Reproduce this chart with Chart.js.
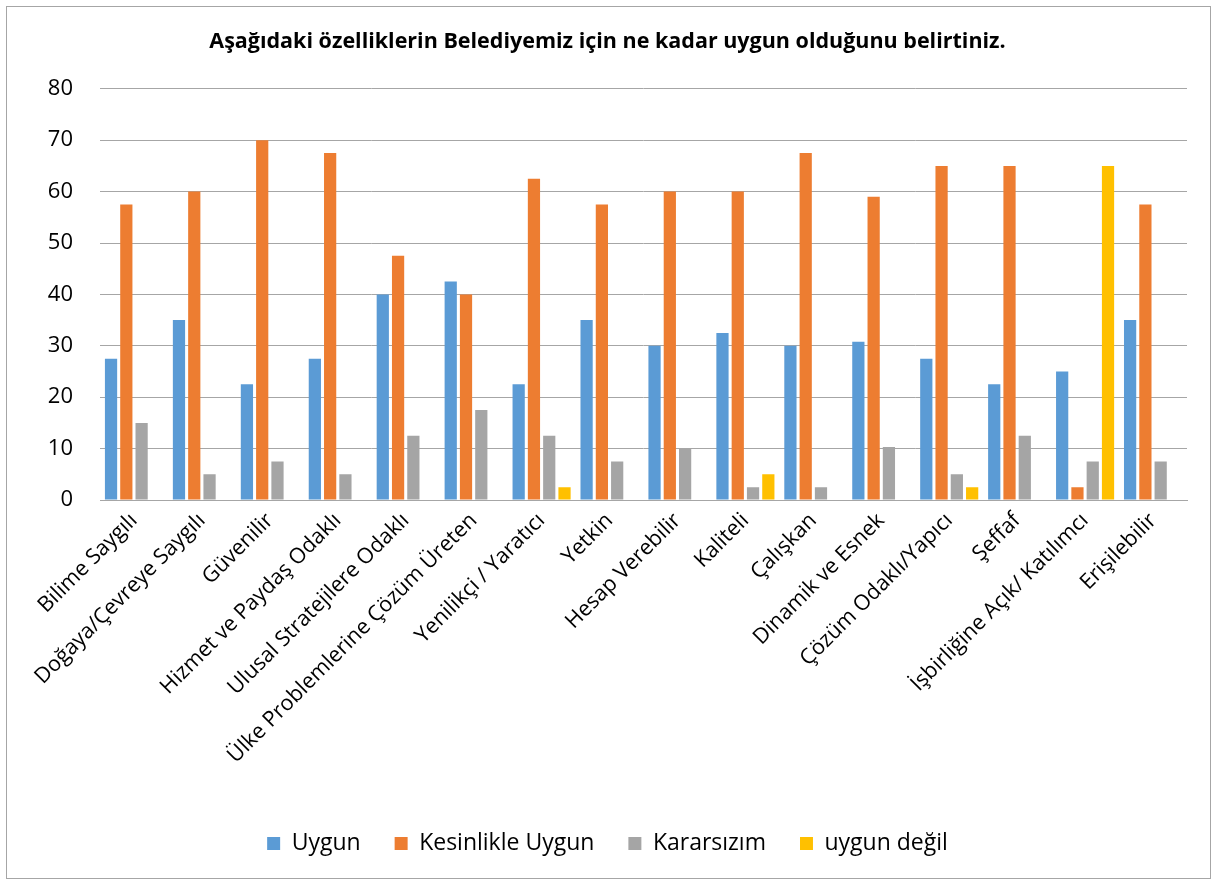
<!DOCTYPE html>
<html>
<head>
<meta charset="utf-8">
<script src="https://cdn.jsdelivr.net/npm/chart.js@4"></script>
<style>
  html, body { margin: 0; padding: 0; background: #fff; }
  #wrap { position: relative; width: 1217px; height: 884px; }
  #frame { position: absolute; left: 6px; top: 6px; width: 1203px; height: 871px; border: 1px solid #a6a6a6; pointer-events: none; }
</style>
</head>
<body>
<div id="wrap">
  <canvas id="chart" width="1217" height="884"></canvas>
  <div id="frame"></div>
</div>
<script>
// ===== DATA =====
const categories = [
  'Bilime Saygılı', 'Doğaya/Çevreye Saygılı', 'Güvenilir', 'Hizmet ve Paydaş Odaklı',
  'Ulusal Stratejilere Odaklı', 'Ülke Problemlerine Çözüm Üreten', 'Yenilikçi / Yaratıcı',
  'Yetkin', 'Hesap Verebilir', 'Kaliteli', 'Çalışkan', 'Dinamik ve Esnek',
  'Çözüm Odaklı/Yapıcı', 'Şeffaf', 'İşbirliğine Açık/ Katılımcı', 'Erişilebilir'
];
const uygun            = [27.5, 35, 22.5, 27.5, 40, 42.5, 22.5, 35, 30, 32.5, 30, 30.8, 27.5, 22.5, 25, 35];
const kesinlikleUygun  = [57.5, 60, 70, 67.5, 47.5, 40, 62.5, 57.5, 60, 60, 67.5, 59, 65, 65, 2.5, 57.5];
const kararsizim       = [15, 5, 7.5, 5, 12.5, 17.5, 12.5, 7.5, 10, 2.5, 2.5, 10.3, 5, 12.5, 7.5, 7.5];
const uygunDegil       = [0, 0, 0, 0, 0, 0, 2.5, 0, 0, 5, 0, 0, 2.5, 0, 65, 0];
const yTicks           = [0, 10, 20, 30, 40, 50, 60, 70, 80];

const FONT = "'Open Sans', 'DejaVu Sans', sans-serif";

const bar = (label, data, color) => ({
  label, data, backgroundColor: color, borderWidth: 0,
  categoryPercentage: 0.9, barPercentage: 0.8
});

new Chart(document.getElementById('chart'), {
  type: 'bar',
  data: {
    labels: categories,
    datasets: [
      bar('Uygun', uygun, '#5b9bd5'),
      bar('Kesinlikle Uygun', kesinlikleUygun, '#ed7d31'),
      bar('Kararsızım', kararsizim, '#a5a5a5'),
      bar('uygun değil', uygunDegil, '#ffc000')
    ]
  },
  options: {
    responsive: false,
    animation: false,
    layout: { padding: { left: 28, right: 30, top: 6, bottom: 26 } },
    plugins: {
      title: {
        display: true,
        text: 'Aşağıdaki özelliklerin Belediyemiz için ne kadar uygun olduğunu belirtiniz.',
        color: '#000',
        font: { family: FONT, size: 21.5, weight: 'bold' },
        padding: { top: 23, bottom: 34 }
      },
      legend: {
        position: 'bottom',
        maxHeight: 60,
        labels: {
          color: '#000',
          boxWidth: 13, boxHeight: 13, padding: 34,
          font: { family: FONT, size: 23 }
        }
      },
      tooltip: { enabled: false }
    },
    scales: {
      x: {
        grid: { display: false, drawTicks: false },
        border: { color: '#a6a6a6', width: 1 },
        ticks: {
          color: '#000', font: { family: FONT, size: 21.5 },
          maxRotation: 45, minRotation: 45, autoSkip: false, padding: 8
        },
        afterFit: s => { s.height = 298; }
      },
      y: {
        min: 0, max: 80,
        afterBuildTicks: s => { s.ticks = yTicks.map(v => ({ value: v })); },
        grid: { color: '#a6a6a6', lineWidth: 1, drawTicks: false },
        border: { display: false },
        ticks: { color: '#000', font: { family: FONT, size: 22 }, padding: 27 },
        afterFit: s => { s.width = 72; }
      }
    }
  }
});
</script>
</body>
</html>
